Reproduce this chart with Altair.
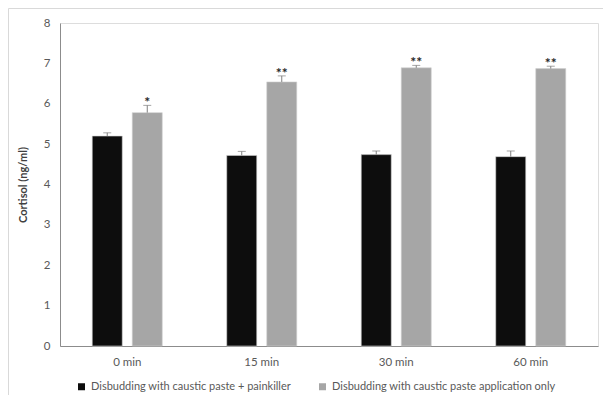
import altair as alt
import pandas as pd

times = ["0 min", "15 min", "30 min", "60 min"]
series = ["Disbudding with caustic paste + painkiller",
          "Disbudding with caustic paste application only"]
painkiller = [5.20, 4.72, 4.74, 4.69]
painkiller_err = [0.08, 0.10, 0.09, 0.14]
paste_only = [5.78, 6.54, 6.89, 6.87]
paste_only_err = [0.18, 0.15, 0.06, 0.06]
stars = ["*", "**", "**", "**"]

rows = []
for i, t in enumerate(times):
    rows.append({"time": t, "group": series[0], "value": painkiller[i],
                 "high": painkiller[i] + painkiller_err[i], "star": ""})
    rows.append({"time": t, "group": series[1], "value": paste_only[i],
                 "high": paste_only[i] + paste_only_err[i], "star": stars[i]})
df = pd.DataFrame(rows)

FONT = "Lato"
W, H = 538, 323

x = alt.X("time:N", sort=times, title=None,
          scale=alt.Scale(paddingInner=0, paddingOuter=0),
          axis=alt.Axis(labelAngle=0, ticks=False, labelPadding=10,
                        domainColor="#8c8c8c", labelColor="#595959",
                        labelFontSize=11.5, labelFont=FONT))
xo = alt.XOffset("group:N", sort=series,
                 scale=alt.Scale(paddingInner=0.25, paddingOuter=0.806))
color = alt.Color("group:N", sort=series, title=None,
                  scale=alt.Scale(domain=series, range=["#0d0d0d", "#a6a6a6"]),
                  legend=alt.Legend(orient="none", legendX=16, legendY=358,
                                    direction="horizontal", symbolType="square",
                                    symbolSize=49, symbolStrokeWidth=0,
                                    labelFontSize=11, labelFont=FONT,
                                    labelColor="#595959", columnPadding=26,
                                    labelLimit=400))
y = alt.Y("value:Q", title="Cortisol (ng/ml)",
          scale=alt.Scale(domain=[0, 8], nice=False),
          axis=alt.Axis(values=[0, 1, 2, 3, 4, 5, 6, 7, 8], grid=False,
                        ticks=False, labelPadding=10, domainColor="#8c8c8c",
                        labelColor="#595959", labelFontSize=11.5, labelFont=FONT,
                        titleColor="#404040", titleFontSize=11, titleFont=FONT,
                        titleFontWeight="bold", titlePadding=15))

base = alt.Chart(df)

bars = base.mark_bar(stroke="#d0d0d0", strokeWidth=0.6).encode(
    x=x, xOffset=xo, y=y, color=color)

err = base.mark_rule(color="#7f7f7f", strokeWidth=1).encode(
    x=alt.X("time:N", sort=times), xOffset=xo,
    y=alt.Y("value:Q"), y2="high:Q")

caps = base.mark_tick(color="#7f7f7f", thickness=1, size=8,
                      orient="horizontal").encode(
    x=alt.X("time:N", sort=times), xOffset=xo, y=alt.Y("high:Q"))

star_txt = base.mark_text(fontSize=14, fontWeight="bold", color="#262626",
                          baseline="bottom", dy=5, font=FONT).encode(
    x=alt.X("time:N", sort=times), xOffset=xo, y=alt.Y("high:Q"),
    text="star:N")

frame = alt.Chart(alt.Data(values=[{}])).mark_rect(
    fillOpacity=0, stroke="#d9d9d9", strokeWidth=1).encode(
    x=alt.value(-51.5), x2=alt.value(W + 40),
    y=alt.value(-14.5), y2=alt.value(H + 100))

chart = alt.layer(frame, bars, err, caps, star_txt).properties(
    width=W, height=H,
    autosize=alt.AutoSizeParams(type="none"),
    padding={"left": 52, "top": 15, "right": 5, "bottom": 49},
).configure_view(stroke=None).configure(background="white")

chart.save("out.html", embed_options={"renderer": "svg", "actions": False})
